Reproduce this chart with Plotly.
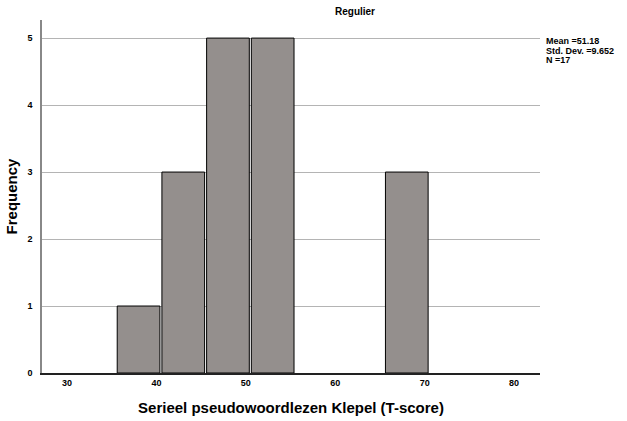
import plotly.graph_objects as go

bin_starts = [35.5, 40.5, 45.5, 50.5, 65.5]
bin_size = 5
counts = [1, 3, 5, 5, 3]
x_ticks = [30, 40, 50, 60, 70, 80]
y_ticks = [0, 1, 2, 3, 4, 5]
stats_lines = ["Mean =51.18", "Std. Dev. =9.652", "N =17"]

centers = [s + bin_size / 2 for s in bin_starts]

FONT = "Liberation Sans, Arial, sans-serif"
PLOT_TOP, PLOT_BOTTOM = 20, 373
PH = PLOT_BOTTOM - PLOT_TOP

fig = go.Figure()
fig.add_trace(go.Bar(
    x=centers, y=counts, width=[bin_size * 0.955] * len(counts),
    marker=dict(color="#948f8d", line=dict(color="black", width=1)),
    hoverinfo="x+y", showlegend=False,
))

annotations = []
for i, line in enumerate(stats_lines):
    ypix = 41 + 9.5 * i
    annotations.append(dict(
        text=f"<b>{line}</b>", xref="paper", yref="paper",
        x=1.01, y=(PLOT_BOTTOM - ypix) / PH, xanchor="left", yanchor="middle",
        align="left", showarrow=False, font=dict(size=9),
        borderpad=0,
    ))

fig.update_layout(
    width=627, height=421,
    margin=dict(l=42, r=87, t=PLOT_TOP, b=421 - PLOT_BOTTOM, autoexpand=False),
    paper_bgcolor="white", plot_bgcolor="white",
    font=dict(family=FONT, color="black"),
    title=dict(text="<b>Regulier</b>", x=355 / 627, xanchor="center",
               y=1 - 11 / 421, yanchor="middle", font=dict(size=10)),
    xaxis=dict(
        range=[27.2, 82.9], tickvals=x_ticks,
        ticktext=[f"<b>{v}</b>" for v in x_ticks],
        tickfont=dict(size=9), showgrid=False, zeroline=False,
        showline=True, linecolor="#222", linewidth=1.5, ticks="", ticklen=0,
        title=dict(text="<b>Serieel pseudowoordlezen Klepel (T-score)</b>",
                   font=dict(size=15), standoff=16),
    ),
    yaxis=dict(
        range=[0, 5.27], tickvals=y_ticks,
        ticktext=[f"<b>{v}</b>" for v in y_ticks],
        tickfont=dict(size=9), showgrid=True, gridcolor="#b4b4b4", gridwidth=1,
        zeroline=False, showline=True, linecolor="#888", linewidth=1.5,
        ticks="", ticklabelstandoff=6,
        title=dict(text="<b>Frequency</b>", font=dict(size=15), standoff=6),
    ),
    annotations=annotations,
)

fig.write_html("out.html")
